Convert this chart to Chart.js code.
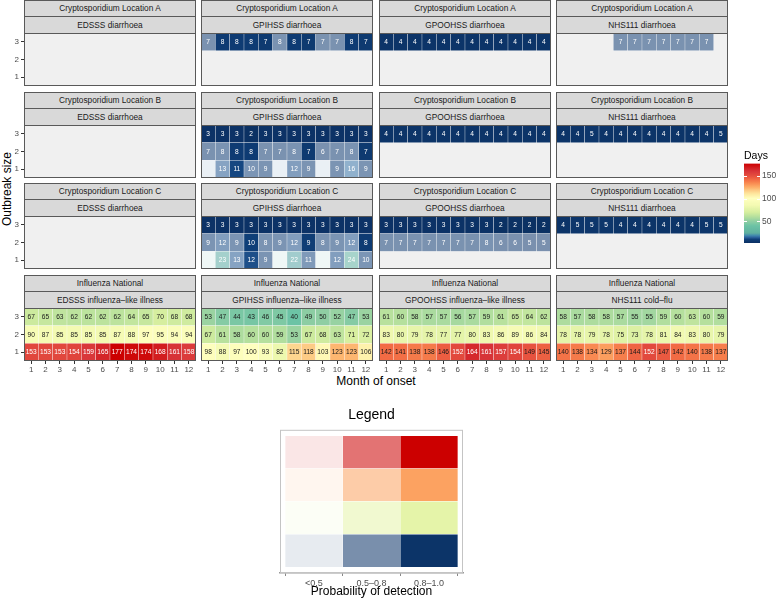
<!DOCTYPE html>
<html>
<head>
<meta charset="utf-8">
<script src="https://cdn.jsdelivr.net/npm/chart.js@4.4.0/dist/chart.umd.min.js"></script>
<style>
  body { margin: 0; width: 777px; height: 600px; position: relative; background: #fff; overflow: hidden;
         font-family: 'Liberation Sans', Arial, Helvetica, sans-serif; }
  .strip { position: absolute; box-sizing: border-box; background: #d9d9d9; border: 1px solid #595959;
           font-size: 8.3px; color: #1a1a1a; text-align: center; white-space: nowrap; }
  canvas { position: absolute; }
  .axis-title { position: absolute; font-size: 12px; font-weight: normal; color: #000; white-space: nowrap; }
</style>
</head>
<body>
<div class="axis-title" style="left:0;width:752px;top:374px;line-height:14px;text-align:center;">Month of onset</div>
<div class="axis-title" style="left:7px;top:189px;transform:translate(-50%,-50%) rotate(-90deg);">Outbreak size</div>
<script>
Chart.defaults.font.family = "'Liberation Sans', Arial, Helvetica, sans-serif";
Chart.defaults.animation = false;

const months = ['1', '2', '3', '4', '5', '6', '7', '8', '9', '10', '11', '12'];
const sizes = [1, 2, 3];
const rowTitles = ['Cryptosporidium Location A', 'Cryptosporidium Location B', 'Cryptosporidium Location C', 'Influenza National'];
const cryptoSystems = ['EDSSS diarrhoea', 'GPIHSS diarrhoea', 'GPOOHSS diarrhoea', 'NHS111 diarrhoea'];
const fluSystems = ['EDSSS influenza–like illness', 'GPIHSS influenza–like illness', 'GPOOHSS influenza–like illness', 'NHS111 cold–flu'];
const probLabels = ['<0.5', '0.5–0.8', '0.8–1.0'];
const probClasses = [0, 1, 2];
const legendDays = [4, 78, 128, 177]; // legend rows, bottom to top

// days to detection; each panel = [size 1, size 2, size 3], null = no tile
// probability class: 0 = <0.5, 1 = 0.5-0.8, 2 = 0.8-1.0
const none = [null, null, null, null, null, null, null, null, null, null, null, null];
const full = [2, 2, 2, 2, 2, 2, 2, 2, 2, 2, 2, 2];
const mid = [1, 1, 1, 1, 1, 1, 1, 1, 1, 1, 1, 1];
const noPanel = [none, none, none];

// Cryptosporidium Location A
const gpihssA = [none, none, [7, 8, 8, 8, 7, 8, 8, 7, 7, 7, 8, 7]];
const gpihssAProb = [none, none, [1, 2, 2, 2, 2, 1, 2, 2, 1, 1, 2, 2]];
const gpoohssA = [none, none, [4, 4, 4, 4, 4, 4, 4, 4, 4, 4, 4, 4]];
const nhs111A = [none, none, [null, null, null, null, 7, 7, 7, 7, 7, 7, 7, null]];

// Cryptosporidium Location B
const gpihssB = [
  [15, 13, 11, 10, 9, 15, 12, 9, 15, 9, 16, 9],
  [7, 8, 8, 8, 7, 7, 8, 7, 6, 7, 8, 7],
  [3, 3, 3, 2, 3, 3, 3, 3, 3, 3, 3, 3]
];
const gpihssBProb = [
  [0, 1, 2, 1, 1, 0, 1, 1, 0, 1, 1, 1],
  [1, 1, 2, 2, 1, 1, 1, 2, 1, 1, 1, 2],
  full
];
const gpoohssB = [none, none, [4, 4, 4, 4, 4, 4, 4, 4, 4, 4, 4, 4]];
const nhs111B = [none, none, [4, 4, 5, 4, 4, 4, 4, 4, 4, 4, 4, 5]];

// Cryptosporidium Location C
const gpihssC = [
  [25, 23, 13, 12, 9, 25, 22, 11, 25, 12, 24, 10],
  [9, 12, 9, 10, 8, 9, 12, 9, 8, 9, 12, 8],
  [3, 3, 3, 3, 3, 3, 3, 3, 3, 3, 3, 3]
];
const gpihssCProb = [
  [0, 1, 1, 2, 1, 0, 1, 1, 0, 1, 1, 1],
  [1, 1, 1, 2, 1, 1, 1, 2, 1, 1, 1, 2],
  full
];
const gpoohssC = [none, [7, 7, 7, 7, 7, 7, 7, 8, 6, 6, 5, 5], [3, 3, 3, 3, 3, 3, 3, 3, 2, 2, 2, 2]];
const nhs111C = [none, none, [4, 5, 5, 5, 4, 4, 4, 4, 4, 4, 5, 5]];

// Influenza National
const edsssFlu = [
  [153, 153, 153, 154, 159, 165, 177, 174, 174, 168, 161, 158],
  [90, 87, 85, 85, 85, 85, 87, 88, 97, 95, 94, 94],
  [67, 65, 63, 62, 62, 62, 62, 64, 65, 70, 68, 68]
];
const gpihssFlu = [
  [98, 88, 97, 100, 93, 82, 115, 118, 103, 123, 123, 106],
  [67, 61, 58, 60, 60, 59, 53, 67, 68, 63, 71, 72],
  [53, 47, 44, 43, 46, 45, 40, 49, 50, 52, 47, 53]
];
const gpoohssFlu = [
  [142, 141, 138, 138, 146, 152, 164, 161, 157, 154, 149, 145],
  [83, 80, 79, 78, 77, 77, 80, 83, 86, 89, 86, 84],
  [61, 60, 58, 57, 57, 56, 57, 59, 61, 65, 64, 62]
];
const nhs111Flu = [
  [140, 138, 134, 129, 137, 144, 152, 147, 142, 140, 138, 137],
  [78, 78, 79, 78, 75, 73, 78, 81, 84, 83, 80, 79],
  [58, 57, 58, 58, 57, 55, 55, 59, 60, 63, 60, 59]
];

const panelDays = [
  [noPanel, gpihssA, gpoohssA, nhs111A],
  [noPanel, gpihssB, gpoohssB, nhs111B],
  [noPanel, gpihssC, gpoohssC, nhs111C],
  [edsssFlu, gpihssFlu, gpoohssFlu, nhs111Flu]
];
const panelProb = [
  [noPanel, gpihssAProb, [none, none, full], [none, none, mid]],
  [noPanel, gpihssBProb, [none, none, full], [none, none, full]],
  [noPanel, gpihssCProb, [none, mid, full], [none, none, full]],
  [[full, full, full], [full, full, full], [full, full, full], [full, full, full]]
];

// colour scale for days
const dayStops = [
  [0, '#0a2d5e'], [10, '#0f3f78'], [14, '#2a5f9a'], [18, '#3f85ad'], [24, '#5fb0a0'],
  [40, '#6cc3a5'], [50, '#8fcea3'], [60, '#b5e09d'], [70, '#d6ee9f'], [85, '#f3fab2'],
  [100, '#ffffbf'], [110, '#fee9a0'], [118, '#fdcb85'], [125, '#fdae68'], [135, '#f8864f'],
  [142, '#f26b44'], [150, '#e54e3e'], [160, '#d8363a'], [177, '#cc0000']
];
const probAlpha = [0.1, 0.55, 1];

function hexRgb(h) {
  return [parseInt(h.slice(1, 3), 16), parseInt(h.slice(3, 5), 16), parseInt(h.slice(5, 7), 16)];
}
function dayColour(v, p) {
  let lo = dayStops[0], hi = dayStops[dayStops.length - 1];
  for (let i = 0; i < dayStops.length - 1; i++) {
    if (v >= dayStops[i][0] && v <= dayStops[i + 1][0]) { lo = dayStops[i]; hi = dayStops[i + 1]; break; }
  }
  const t = hi[0] === lo[0] ? 0 : (v - lo[0]) / (hi[0] - lo[0]);
  const a = hexRgb(lo[1]), b = hexRgb(hi[1]);
  const al = probAlpha[p];
  const c = a.map((x, k) => {
    const pure = x + (b[k] - x) * t;
    return Math.round(255 - al * (255 - pure));
  });
  return 'rgb(' + c.join(',') + ')';
}

// background, tile labels and border of each panel
const panelFrame = {
  id: 'panelFrame',
  beforeDatasetsDraw(chart, args, opts) {
    const a = chart.chartArea, ctx = chart.ctx;
    ctx.save();
    ctx.fillStyle = opts.bg;
    ctx.fillRect(a.left, a.top, a.width, a.height);
    ctx.restore();
  },
  afterDatasetsDraw(chart, args, opts) {
    const a = chart.chartArea, ctx = chart.ctx;
    ctx.save();
    if (opts.days) {
      ctx.font = '6.6px ' + Chart.defaults.font.family;
      ctx.textAlign = 'center';
      ctx.textBaseline = 'middle';
      chart.data.datasets.forEach((ds, i) => {
        chart.getDatasetMeta(i).data.forEach((el, j) => {
          const v = opts.days[i][j];
          const p = opts.prob[i][j];
          if (v == null || !p) return;
          ctx.fillStyle = (v <= 30 || v >= 150) ? '#ffffff' : '#1a1a1a';
          ctx.fillText(String(v), el.x, (el.y + el.base) / 2 + 0.5);
        });
      });
    }
    ctx.strokeStyle = opts.border;
    ctx.lineWidth = 1;
    ctx.strokeRect(a.left + 0.5, a.top + 0.5, a.width - 1, a.height - 1);
    ctx.restore();
  }
};

// stop the axes from reserving room for half a label at each end
function noEdgePadding(s) {
  s.paddingTop = 0; s.paddingBottom = 0; s.paddingLeft = 0; s.paddingRight = 0;
}

const colX = [24, 201, 379, 556];
const rowY = [0, 92, 183, 275];
const panelW = 172, plotH = 53;

function addStrip(text, x, y, h, lh, noBottom) {
  const d = document.createElement('div');
  d.className = 'strip';
  d.textContent = text;
  d.style.left = x + 'px';
  d.style.top = y + 'px';
  d.style.width = panelW + 'px';
  d.style.height = h + 'px';
  d.style.lineHeight = lh + 'px';
  if (noBottom) d.style.borderBottom = 'none';
  document.body.appendChild(d);
}

function makePanel(r, c) {
  const x0 = colX[c], y0 = rowY[r];
  const days = panelDays[r][c], prob = panelProb[r][c];
  addStrip(rowTitles[r], x0, y0, 17, 15, false);
  addStrip(r === 3 ? fluSystems[c] : cryptoSystems[c], x0, y0 + 16, 17, 16, true);

  const hasY = c === 0, hasX = r === 3;
  const cv = document.createElement('canvas');
  cv.width = panelW + (hasY ? 24 : 0);
  cv.height = plotH + (hasX ? 14 : 0);
  cv.style.left = (hasY ? x0 - 24 : x0) + 'px';
  cv.style.top = (y0 + 33) + 'px';
  document.body.appendChild(cv);

  new Chart(cv, {
    type: 'bar',
    data: {
      labels: months,
      datasets: sizes.map((s, i) => ({
        label: 'Size ' + s,
        data: days[i].map(v => v == null ? null : [s - 0.5, s + 0.5]),
        backgroundColor: days[i].map((v, j) => v == null ? 'rgba(0,0,0,0)' : dayColour(v, prob[i][j])),
        borderColor: 'rgba(255,255,255,0.6)',
        borderWidth: 0.5,
        borderSkipped: false,
        grouped: false,
        barPercentage: 1,
        categoryPercentage: 1
      }))
    },
    options: {
      responsive: false,
      layout: { padding: 0 },
      plugins: {
        legend: { display: false },
        tooltip: { enabled: false },
        panelFrame: { bg: '#f0f0f0', border: '#595959', days: days, prob: prob }
      },
      scales: {
        x: {
          display: hasX,
          afterFit: s => { noEdgePadding(s); if (hasX) s.height = 14; },
          ticks: { font: { size: 8 }, color: '#4d4d4d', padding: 1, maxRotation: 0, autoSkip: false },
          grid: { offset: false, drawOnChartArea: false, tickLength: 3, color: '#333' },
          border: { display: false }
        },
        y: {
          display: hasY,
          min: 0.5,
          max: 3.5,
          afterBuildTicks: s => { s.ticks = sizes.map(v => ({ value: v })); },
          afterFit: s => { noEdgePadding(s); if (hasY) s.width = 24; },
          ticks: { font: { size: 8 }, color: '#4d4d4d', padding: 2 },
          grid: { drawOnChartArea: false, tickLength: 3, color: '#333' },
          border: { display: false }
        }
      }
    },
    plugins: [panelFrame]
  });
}

for (let r = 0; r < 4; r++) {
  for (let c = 0; c < 4; c++) makePanel(r, c);
}

// Days colour bar
const allDays = panelDays.flat(3).filter(v => v != null);
const dayMin = Math.min(...allDays), dayMax = Math.max(...allDays);
const barTicks = [50, 100, 150];

const barCanvas = document.createElement('canvas');
barCanvas.width = 42; barCanvas.height = 100;
barCanvas.style.left = '735px'; barCanvas.style.top = '145px';
document.body.appendChild(barCanvas);

const barTickMarks = {
  id: 'barTickMarks',
  afterDatasetsDraw(chart) {
    const a = chart.chartArea, ctx = chart.ctx, y = chart.scales.y;
    ctx.save();
    ctx.strokeStyle = '#ffffff';
    ctx.lineWidth = 1;
    barTicks.forEach(v => {
      const py = Math.round(y.getPixelForValue(v)) + 0.5;
      ctx.beginPath();
      ctx.moveTo(a.left, py); ctx.lineTo(a.left + 3, py);
      ctx.moveTo(a.right - 3, py); ctx.lineTo(a.right, py);
      ctx.stroke();
    });
    ctx.restore();
  }
};

new Chart(barCanvas, {
  type: 'bar',
  data: {
    labels: [''],
    datasets: [{
      data: [[dayMin, dayMax]],
      backgroundColor: ctx => {
        const a = ctx.chart.chartArea;
        if (!a || !isFinite(a.top) || !isFinite(a.bottom) || a.bottom === a.top) return dayColour(100, 2);
        const g = ctx.chart.ctx.createLinearGradient(0, a.bottom, 0, a.top);
        for (let v = dayMin; v <= dayMax; v += 1) g.addColorStop((v - dayMin) / (dayMax - dayMin), dayColour(v, 2));
        return g;
      },
      borderWidth: 0,
      barPercentage: 1,
      categoryPercentage: 1
    }]
  },
  options: {
    responsive: false,
    layout: { padding: { left: 9, bottom: 2 } },
    plugins: {
      legend: { display: false },
      tooltip: { enabled: false },
      title: { display: true, text: 'Days', align: 'start', color: '#000', font: { size: 10.5, weight: 'normal' }, padding: { top: 5, bottom: 1 } }
    },
    scales: {
      x: { display: false },
      y: {
        position: 'right',
        min: dayMin,
        max: dayMax,
        afterBuildTicks: s => { s.ticks = barTicks.map(v => ({ value: v })); },
        afterFit: s => { noEdgePadding(s); s.width = 17; },
        ticks: { font: { size: 8.5 }, color: '#4d4d4d', padding: 2 },
        grid: { display: false, drawTicks: false, tickLength: 0 },
        border: { display: false }
      }
    }
  },
  plugins: [barTickMarks]
});

// bivariate legend
const legCanvas = document.createElement('canvas');
legCanvas.width = 205; legCanvas.height = 200;
legCanvas.style.left = '270px'; legCanvas.style.top = '400px';
document.body.appendChild(legCanvas);

new Chart(legCanvas, {
  type: 'bar',
  data: {
    datasets: legendDays.map((d, r) => ({
      data: probClasses.map(p => ({ x: p + 1, y: [r + 0.5, r + 1.5] })),
      backgroundColor: probClasses.map(p => dayColour(d, p)),
      borderColor: 'rgba(255,255,255,0.8)',
      borderWidth: 0.5,
      borderSkipped: false,
      grouped: false,
      barPercentage: 1,
      categoryPercentage: 1
    }))
  },
  options: {
    responsive: false,
    layout: { padding: { left: 10, right: 12, bottom: 0 } },
    plugins: {
      legend: { display: false },
      tooltip: { enabled: false },
      title: { display: true, text: 'Legend', color: '#000', font: { size: 14, weight: 'normal' }, padding: { top: 7, bottom: 6 } },
      panelFrame: { bg: '#ffffff', border: '#c4c4c4', days: null }
    },
    scales: {
      x: {
        type: 'linear',
        min: 0.41,
        max: 3.59,
        offset: false,
        afterBuildTicks: s => { s.ticks = probClasses.map(p => ({ value: p + 1 })); },
        afterFit: s => { noEdgePadding(s); s.height = 27; },
        ticks: { font: { size: 9 }, color: '#4d4d4d', padding: 2, callback: v => probLabels[v - 1] },
        grid: { drawOnChartArea: false, tickLength: 3, color: '#888' },
        border: { display: true, color: '#999', width: 1.5 },
        title: { display: true, text: 'Probability of detection', color: '#000', font: { size: 12 }, padding: { top: 0, bottom: 1 } }
      },
      y: { display: false, min: 0.32, max: 4.68 }
    }
  },
  plugins: [panelFrame]
});
</script>
</body>
</html>
